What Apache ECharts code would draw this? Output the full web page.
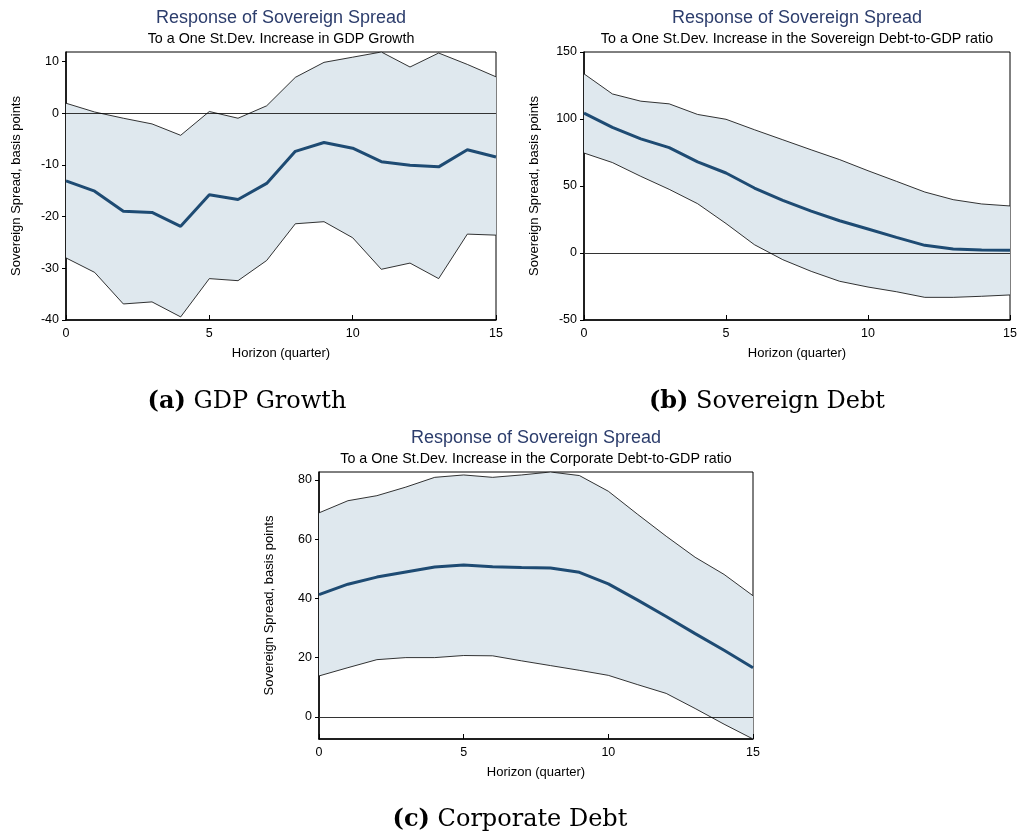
<!DOCTYPE html>
<html>
<head>
<meta charset="utf-8">
<script src="https://cdn.jsdelivr.net/npm/echarts@6/dist/echarts.min.js"></script>
<style>
  html, body { margin: 0; padding: 0; background: #ffffff; }
  #chart { width: 1020px; height: 832px; }
</style>
</head>
<body>
<div id="chart"></div>
<script>
// Horizon in quarters
const horizon = [0, 1, 2, 3, 4, 5, 6, 7, 8, 9, 10, 11, 12, 13, 14, 15];
const xTicks = [0, 5, 10, 15];

// (a) GDP growth shock
const gdpMedian = [-13.1, -15.1, -19.0, -19.2, -21.9, -15.8, -16.7, -13.6, -7.4, -5.7, -6.8, -9.4, -10.1, -10.4, -7.1, -8.5];
const gdpLower  = [-28.0, -30.8, -36.9, -36.5, -39.4, -32.0, -32.4, -28.5, -21.4, -21.0, -24.1, -30.2, -29.0, -32.0, -23.4, -23.6];
const gdpUpper  = [1.9, 0.2, -1.0, -2.1, -4.3, 0.3, -1.0, 1.4, 6.9, 9.8, 10.8, 11.8, 8.9, 11.6, 9.4, 7.0];
const gdpTicks  = [-40, -30, -20, -10, 0, 10];

// (b) Sovereign debt shock
const sovMedian = [104.4, 93.8, 85.2, 78.6, 68.0, 59.7, 48.5, 39.3, 31.3, 24.1, 17.9, 11.7, 5.7, 3.0, 2.2, 2.0];
const sovLower  = [74.6, 67.5, 57.2, 47.5, 36.8, 22.0, 6.2, -5.0, -13.7, -21.1, -25.4, -28.9, -33.1, -33.1, -32.3, -31.3];
const sovUpper  = [133.7, 118.7, 113.3, 111.3, 103.4, 99.8, 92.0, 84.5, 77.0, 69.7, 61.4, 53.5, 45.5, 39.8, 36.6, 35.1];
const sovTicks  = [-50, 0, 50, 100, 150];

// (c) Corporate debt shock
const corpMedian = [41.3, 44.8, 47.2, 48.9, 50.6, 51.3, 50.7, 50.4, 50.3, 48.8, 44.9, 39.5, 33.9, 28.1, 22.5, 16.6];
const corpLower  = [13.8, 16.6, 19.3, 20.0, 20.0, 20.7, 20.6, 18.9, 17.3, 15.7, 14.0, 10.9, 7.9, 2.8, -2.5, -7.5];
const corpUpper  = [68.9, 73.0, 74.7, 77.6, 80.9, 81.7, 80.9, 81.7, 82.7, 81.5, 76.2, 68.5, 61.0, 53.9, 48.1, 40.9];
const corpTicks  = [0, 20, 40, 60, 80];

const mainTitle = 'Response of Sovereign Spread';
const subTitles = [
  'To a One St.Dev. Increase in GDP Growth',
  'To a One St.Dev. Increase in the Sovereign Debt-to-GDP ratio',
  'To a One St.Dev. Increase in the Corporate Debt-to-GDP ratio'
];
const captions = [['(a)', 'GDP Growth'], ['(b)', 'Sovereign Debt'], ['(c)', 'Corporate Debt']];
const yName = 'Sovereign Spread, basis points';
const xName = 'Horizon (quarter)';

const SANS = 'Liberation Sans, Arial, sans-serif';
const SERIF = 'DejaVu Serif, serif';
const BAND = '#dfe8ee';
const MEDIAN = '#1e4b73';
const TITLE_COLOR = '#2c3d6c';

const panels = [
  { median: gdpMedian, lower: gdpLower, upper: gdpUpper, ticks: gdpTicks, min: -40, max: 11.8,
    grid: { left: 66, top: 52, width: 430, height: 268 } },
  { median: sovMedian, lower: sovLower, upper: sovUpper, ticks: sovTicks, min: -50, max: 150,
    grid: { left: 584, top: 52, width: 426, height: 268 } },
  { median: corpMedian, lower: corpLower, upper: corpUpper, ticks: corpTicks, min: -7.5, max: 82.7,
    grid: { left: 319, top: 472, width: 434, height: 267 } }
];

const pairs = arr => horizon.map((h, i) => [h, arr[i]]);

// Shaded confidence band: one polygon through upper edge and back along lower edge
function bandRenderer(lower, upper) {
  return function (params, api) {
    if (params.dataIndex !== 0) return null;
    const pts = [];
    horizon.forEach((h, i) => pts.push(api.coord([h, upper[i]])));
    for (let i = horizon.length - 1; i >= 0; i--) pts.push(api.coord([horizon[i], lower[i]]));
    return {
      type: 'polygon',
      shape: { points: pts },
      style: { fill: BAND, stroke: null }
    };
  };
}

const grids = [], xAxes = [], yAxes = [], series = [], graphics = [];

panels.forEach((p, k) => {
  grids.push(Object.assign({ show: true, borderColor: '#000', borderWidth: 1, backgroundColor: 'transparent' }, p.grid));
  xAxes.push({
    type: 'value', gridIndex: k, min: 0, max: 15,
    name: xName, nameLocation: 'middle', nameGap: 27,
    nameTextStyle: { fontFamily: SANS, fontSize: 13, color: '#000' },
    axisLine: { show: true, onZero: false, lineStyle: { color: '#000', width: 1.5 } },
    axisTick: { show: true, inside: true, length: 5, customValues: xTicks, lineStyle: { color: '#000' } },
    axisLabel: { customValues: xTicks, fontFamily: SANS, fontSize: 12.5, color: '#000', margin: 7 },
    splitLine: { show: false }
  });
  yAxes.push({
    type: 'value', gridIndex: k, min: p.min, max: p.max,
    name: yName, nameLocation: 'middle', nameRotate: 90, nameGap: 43,
    nameTextStyle: { fontFamily: SANS, fontSize: 13, color: '#000' },
    axisLine: { show: true, onZero: false, lineStyle: { color: '#000', width: 1.5 } },
    axisTick: { show: true, inside: false, length: 4, customValues: p.ticks, lineStyle: { color: '#000' } },
    axisLabel: { customValues: p.ticks, fontFamily: SANS, fontSize: 12.5, color: '#000', margin: 7 },
    splitLine: { show: false }
  });

  series.push({
    type: 'custom', xAxisIndex: k, yAxisIndex: k, silent: true, z: 1, clip: true,
    data: horizon.map((h, i) => [h, p.lower[i], p.upper[i]]),
    encode: { x: 0, y: [1, 2] },
    renderItem: bandRenderer(p.lower, p.upper)
  });
  // Band edges
  [p.lower, p.upper].forEach(arr => series.push({
    type: 'line', xAxisIndex: k, yAxisIndex: k, data: pairs(arr), symbol: 'none',
    lineStyle: { color: '#000', width: 0.8 }, silent: true, z: 3
  }));
  // Point estimate with zero reference line
  series.push({
    type: 'line', xAxisIndex: k, yAxisIndex: k, data: pairs(p.median), symbol: 'none',
    lineStyle: { color: MEDIAN, width: 3 }, silent: true, z: 4,
    markLine: {
      silent: true, symbol: 'none', label: { show: false },
      lineStyle: { color: '#333', width: 1, type: 'solid' },
      data: [{ yAxis: 0 }], z: 2
    }
  });

  const cx = p.grid.left + p.grid.width / 2;
  graphics.push({
    type: 'text', x: cx, y: p.grid.top - 43,
    style: { text: mainTitle, font: '18px ' + SANS, fill: TITLE_COLOR, align: 'center', verticalAlign: 'top' }
  });
  graphics.push({
    type: 'text', x: cx, y: p.grid.top - 20,
    style: { text: subTitles[k], font: '14.3px ' + SANS, fill: '#000', align: 'center', verticalAlign: 'top' }
  });
});

// Sub-figure captions
const capPos = [[247, 390], [767, 390], [510, 808]];
captions.forEach((c, k) => {
  graphics.push({
    type: 'text', x: capPos[k][0], y: capPos[k][1],
    style: {
      text: '{b|' + c[0] + '} ' + c[1],
      font: '24px ' + SERIF, fill: '#000', align: 'center',
      rich: { b: { fontWeight: 'bold', fontFamily: SERIF, fontSize: 24 } }
    }
  });
});

const chart = echarts.init(document.getElementById('chart'), null, { renderer: 'canvas' });
chart.setOption({
  animation: false,
  backgroundColor: '#ffffff',
  grid: grids,
  xAxis: xAxes,
  yAxis: yAxes,
  series: series,
  graphic: graphics
});
</script>
</body>
</html>
